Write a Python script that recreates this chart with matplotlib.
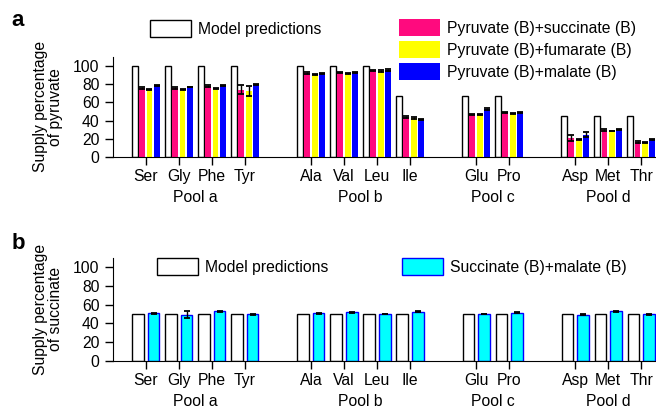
import matplotlib
matplotlib.use("Agg")
import matplotlib.pyplot as plt
from matplotlib.patches import Patch

plt.rcParams['font.family'] = ['Liberation Sans', 'DejaVu Sans']
plt.rcParams['font.size'] = 11.3

# categories and data
amino = ["Ser", "Gly", "Phe", "Tyr", "Ala", "Val", "Leu", "Ile", "Glu", "Pro", "Asp", "Met", "Thr"]
positions = [0, 1, 2, 3, 5, 6, 7, 8, 10, 11, 13, 14, 15]
pools = ["Pool a", "Pool b", "Pool c", "Pool d"]
pool_centers = [1.5, 6.5, 10.5, 14]

model_pyr = [100, 100, 100, 100, 100, 100, 100, 67, 67, 67, 45, 45, 45]
pyr_succ = [76, 75.5, 78, 74, 92.5, 93, 95, 43.5, 46.5, 49, 21, 30, 16.5]
pyr_succ_err = [1.2, 1, 1.2, 5, 0.8, 0.8, 0.8, 1.2, 0.8, 0.8, 3, 1.2, 1.2]
pyr_fum = [74, 74, 75, 72, 90.5, 91.5, 94.5, 43, 46.5, 48, 19, 28.5, 16]
pyr_fum_err = [0.4, 0.4, 0.4, 5.5, 0.4, 0.8, 1.2, 1.2, 0.4, 0.4, 0.4, 0.4, 0.4]
pyr_mal = [78.5, 77, 78.5, 80, 92, 92.5, 95.5, 41.5, 52.5, 49, 24.5, 30, 19]
pyr_mal_err = [0.4, 0.4, 0.4, 0.4, 0.4, 0.4, 0.8, 0.4, 0.8, 0.4, 3, 0.4, 0.4]

model_succ = [50] * 13
succ_mal = [51, 49.3, 53, 49.6, 51, 52, 50, 52.5, 50, 51.4, 49.3, 53, 49.6]
succ_mal_err = [0.4, 3.5, 0.4, 0.4, 0.4, 0.4, 0.4, 0.4, 0.4, 0.4, 0.4, 0.4, 0.4]

pink = "#FF0A7E"
yellow = "#FFFF00"
blue = "#0000FF"
cyan = "#00FFFF"

fig = plt.figure(figsize=(6.56, 4.12), dpi=100)
ax1 = fig.add_axes([0.172, 0.619, 0.828, 0.243])
ax2 = fig.add_axes([0.172, 0.124, 0.828, 0.250])

ekw = dict(ecolor="black", elinewidth=1, capsize=2.2, capthick=1.3)

# panel a
w = 0.18
step = 0.22
ax1.bar([p - 1.5 * step for p in positions], model_pyr, w, color="white", edgecolor="black", linewidth=1)
ax1.bar([p - 0.5 * step for p in positions], pyr_succ, w, color=pink, yerr=pyr_succ_err, error_kw=ekw)
ax1.bar([p + 0.5 * step for p in positions], pyr_fum, w, color=yellow, yerr=pyr_fum_err, error_kw=ekw)
ax1.bar([p + 1.5 * step for p in positions], pyr_mal, w, color=blue, yerr=pyr_mal_err, error_kw=ekw)

# panel b
wb = 0.34
ax2.bar([p - 0.24 for p in positions], model_succ, wb, color="white", edgecolor="black", linewidth=1)
ax2.bar([p + 0.24 for p in positions], succ_mal, wb, color=cyan, edgecolor=blue, linewidth=1,
        yerr=succ_mal_err, error_kw=ekw)

for ax, ylab in [(ax1, "Supply percentage\nof pyruvate"), (ax2, "Supply percentage\nof succinate")]:
    ax.set_xlim(-1.0, 15.45)
    ax.set_ylim(0, 110)
    ax.set_yticks([0, 20, 40, 60, 80, 100])
    ax.set_xticks(positions)
    ax.set_xticklabels(amino)
    ax.spines["top"].set_visible(False)
    ax.spines["right"].set_visible(False)
    ax.tick_params(axis="both", direction="out", length=5.5, width=1)
    ax.tick_params(axis="x", pad=3.5)
    ax.tick_params(axis="y", pad=4)
    ax.set_ylabel(ylab, linespacing=1.0, labelpad=7)
    for c, name in zip(pool_centers, pools):
        ax.annotate(name, xy=(c, 0), xycoords=("data", "axes fraction"), xytext=(0, -24),
                    textcoords="offset points", ha="center", va="top")

lkw = dict(loc="upper left", frameon=False, borderpad=0, borderaxespad=0,
           handlelength=2.6, handleheight=1.3, handletextpad=0.45)

# legends panel a
fig.legend([Patch(facecolor="white", edgecolor="black", linewidth=1)], ["Model predictions"],
           bbox_to_anchor=(0.2287, 0.9515), **lkw)
fig.legend([Patch(facecolor=pink), Patch(facecolor=yellow), Patch(facecolor=blue)],
           ["Pyruvate (B)+succinate (B)", "Pyruvate (B)+fumarate (B)", "Pyruvate (B)+malate (B)"],
           bbox_to_anchor=(0.608, 0.954), labelspacing=0.32, **lkw)

# legends panel b
fig.legend([Patch(facecolor="white", edgecolor="black", linewidth=1)], ["Model predictions"],
           bbox_to_anchor=(0.2393, 0.3738), **lkw)
fig.legend([Patch(facecolor=cyan, edgecolor=blue, linewidth=1)], ["Succinate (B)+malate (B)"],
           bbox_to_anchor=(0.6128, 0.3738), **lkw)

fig.text(0.018, 0.975, "a", fontsize=16, fontweight="bold", va="top")
fig.text(0.018, 0.435, "b", fontsize=16, fontweight="bold", va="top")

fig.savefig("out.png", dpi=100)
